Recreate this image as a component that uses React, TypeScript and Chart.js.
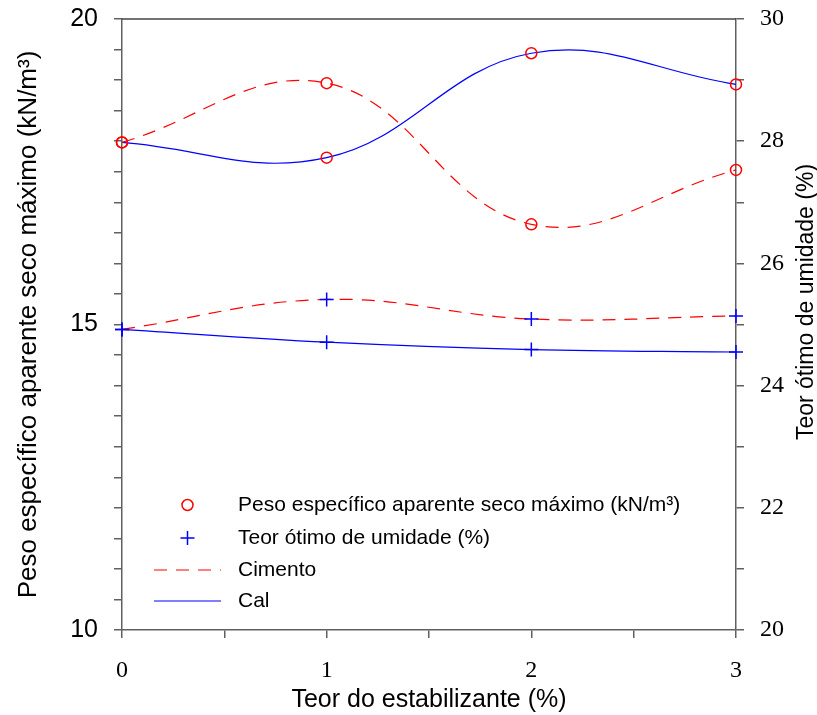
import React, { useEffect, useRef } from 'react';
import { Chart, registerables } from 'chart.js';

Chart.register(...registerables);

// ---- data ----
const xValues = [0, 1, 2, 3];
const pesoCimento = [17.98, 18.95, 16.64, 17.53];
const pesoCal = [17.98, 17.73, 19.44, 18.93];
const umidadeCimento = [24.92, 25.41, 25.09, 25.14];
const umidadeCal = [24.92, 24.71, 24.59, 24.55];

const leftTickLabels = [10, 15, 20];
const rightTickLabels = [20, 22, 24, 26, 28, 30];
const xTickLabels = [0, 1, 2, 3];

const xTitle = 'Teor do estabilizante (%)';
const leftTitle = 'Peso específico aparente seco máximo (kN/m³)';
const rightTitle = 'Teor ótimo de umidade (%)';
const legendLabels = [
  'Peso específico aparente seco máximo (kN/m³)',
  'Teor ótimo de umidade (%)',
  'Cimento',
  'Cal',
];

const RED = '#ff0000';
const BLUE = '#0000ff';
const AXIS = '#606060';
const DASH = [13, 9];
const SANS = '"Liberation Sans", Arial, sans-serif';
const SERIF = '"Liberation Serif", "Times New Roman", serif';

const toPoints = (ys: number[]) => xValues.map((x, i) => ({ x, y: ys[i] }));

const decorPlugin = {
  id: 'decor',
  afterDraw(chart: any) {
    const { ctx, chartArea } = chart;
    const { left, right, top, bottom } = chartArea;
    ctx.save();
    // top frame line
    ctx.strokeStyle = '#444444';
    ctx.lineWidth = 1.5;
    ctx.beginPath();
    ctx.moveTo(left, top);
    ctx.lineTo(right, top);
    ctx.stroke();

    // right title (reads bottom-to-top)
    ctx.fillStyle = '#000';
    ctx.font = `23px ${SANS}`;
    ctx.textAlign = 'center';
    ctx.textBaseline = 'middle';
    ctx.translate(right + 71, top + 283);
    ctx.rotate(-Math.PI / 2);
    ctx.fillText(rightTitle, 0, 0);
    ctx.restore();

    // legend
    ctx.save();
    const rowsY = [bottom - 125, bottom - 92, bottom - 60, bottom - 29];
    const symX = left + 65.5;
    const lineX0 = left + 32;
    const lineX1 = left + 99;
    const textX = left + 116;
    ctx.font = `21px ${SANS}`;
    ctx.textAlign = 'left';
    ctx.textBaseline = 'middle';
    ctx.fillStyle = '#000';
    legendLabels.forEach((t, i) => ctx.fillText(t, textX, rowsY[i]));
    // circle
    ctx.strokeStyle = RED;
    ctx.lineWidth = 1.5;
    ctx.beginPath();
    ctx.arc(symX, rowsY[0], 5.5, 0, Math.PI * 2);
    ctx.stroke();
    // plus
    ctx.strokeStyle = BLUE;
    ctx.beginPath();
    ctx.moveTo(symX - 7, rowsY[1]);
    ctx.lineTo(symX + 7, rowsY[1]);
    ctx.moveTo(symX, rowsY[1] - 7);
    ctx.lineTo(symX, rowsY[1] + 7);
    ctx.stroke();
    // dashed red
    ctx.lineWidth = 1.2;
    ctx.strokeStyle = RED;
    ctx.setLineDash(DASH);
    ctx.beginPath();
    ctx.moveTo(lineX0, rowsY[2]);
    ctx.lineTo(lineX1, rowsY[2]);
    ctx.stroke();
    // solid blue
    ctx.setLineDash([]);
    ctx.strokeStyle = BLUE;
    ctx.beginPath();
    ctx.moveTo(lineX0, rowsY[3]);
    ctx.lineTo(lineX1, rowsY[3]);
    ctx.stroke();
    ctx.restore();
  },
};

const noPad = (s: any) => {
  s.paddingTop = 0;
  s.paddingBottom = 0;
  s.paddingLeft = 0;
  s.paddingRight = 0;
};

export default function App() {
  const canvasRef = useRef<HTMLCanvasElement | null>(null);

  useEffect(() => {
    if (!canvasRef.current) return;
    const lineBase = {
      tension: 0.4,
      borderWidth: 1.2,
      clip: false as any,
      pointBackgroundColor: 'rgba(0,0,0,0)',
      pointBorderWidth: 1.5,
      fill: false,
    };
    const chart = new Chart(canvasRef.current, {
      type: 'line',
      data: {
        datasets: [
          {
            ...lineBase,
            label: 'Cimento - peso',
            data: toPoints(pesoCimento),
            borderColor: RED,
            borderDash: DASH,
            pointStyle: 'circle',
            pointRadius: 5.5,
            pointBorderColor: RED,
            yAxisID: 'y',
          },
          {
            ...lineBase,
            label: 'Cal - peso',
            data: toPoints(pesoCal),
            borderColor: BLUE,
            pointStyle: 'circle',
            pointRadius: 5.5,
            pointBorderColor: RED,
            yAxisID: 'y',
          },
          {
            ...lineBase,
            label: 'Cimento - umidade',
            data: toPoints(umidadeCimento),
            borderColor: RED,
            borderDash: DASH,
            pointStyle: 'cross',
            pointRadius: 7,
            pointBorderColor: BLUE,
            yAxisID: 'y2',
          },
          {
            ...lineBase,
            label: 'Cal - umidade',
            data: toPoints(umidadeCal),
            borderColor: BLUE,
            pointStyle: 'cross',
            pointRadius: 7,
            pointBorderColor: BLUE,
            yAxisID: 'y2',
          },
        ],
      },
      options: {
        animation: false,
        responsive: true,
        maintainAspectRatio: false,
        layout: { padding: { top: 19, left: 0, right: 0, bottom: 0 } },
        plugins: {
          legend: { display: false },
          tooltip: { enabled: false },
        },
        scales: {
          x: {
            type: 'linear',
            position: 'bottom',
            min: 0,
            max: 3,
            afterFit: (s: any) => { s.height = 85; noPad(s); },
            ticks: {
              stepSize: 0.5,
              autoSkip: false,
              maxRotation: 0,
              padding: 18,
              color: '#000',
              font: { family: SERIF, size: 24 },
              callback: (v: any) => (xTickLabels.includes(Number(v)) ? String(v) : ''),
            },
            grid: { drawOnChartArea: false, drawTicks: true, tickLength: 8, color: AXIS, lineWidth: 1.5 },
            border: { display: true, color: AXIS, width: 1.5 },
            title: {
              display: true,
              text: xTitle,
              color: '#000',
              font: { family: SANS, size: 25 },
              padding: { top: 0, bottom: 0 },
            },
          },
          y: {
            type: 'linear',
            position: 'left',
            min: 10,
            max: 20,
            afterFit: (s: any) => { s.width = 122; noPad(s); },
            ticks: {
              stepSize: 0.5,
              autoSkip: false,
              padding: 16,
              color: '#000',
              font: { family: SANS, size: 25 },
              callback: (v: any) => (leftTickLabels.includes(Number(v)) ? String(v) : ''),
            },
            grid: { drawOnChartArea: false, drawTicks: true, tickLength: 8, color: AXIS, lineWidth: 1.5 },
            border: { display: true, color: AXIS, width: 1.5 },
            title: {
              display: true,
              text: leftTitle,
              color: '#000',
              font: { family: SANS, size: 26 },
              padding: { top: 13, bottom: 0 },
            },
          },
          y2: {
            type: 'linear',
            position: 'right',
            min: 20,
            max: 30,
            afterFit: (s: any) => { s.width = 81; noPad(s); },
            ticks: {
              stepSize: 1,
              autoSkip: false,
              padding: 16,
              color: '#000',
              font: { family: SERIF, size: 24 },
              callback: (v: any) => (rightTickLabels.includes(Number(v)) ? String(v) : ''),
            },
            grid: { drawOnChartArea: false, drawTicks: true, tickLength: 8, color: AXIS, lineWidth: 1.5 },
            border: { display: true, color: AXIS, width: 1.5 },
            title: { display: false },
          },
        },
      } as any,
      plugins: [decorPlugin],
    });
    return () => chart.destroy();
  }, []);

  return (
    <div style={{ position: 'absolute', left: 0, top: 0, width: 817, height: 715 }}>
      <canvas ref={canvasRef} />
    </div>
  );
}
